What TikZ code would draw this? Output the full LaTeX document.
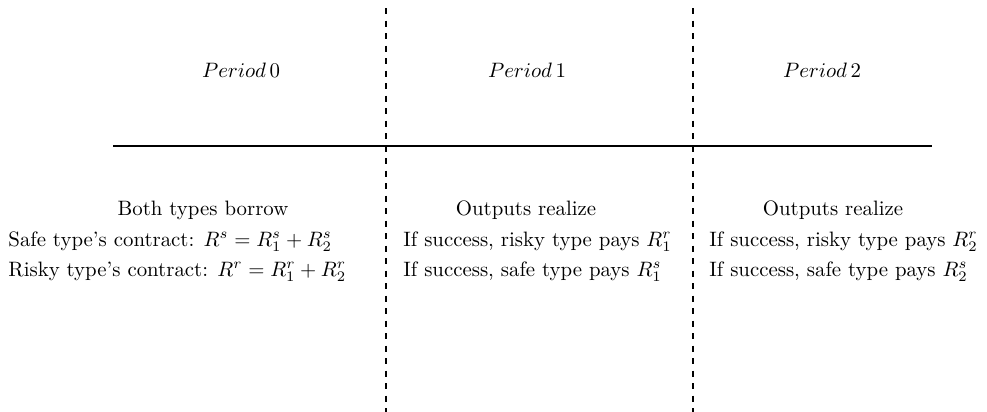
\documentclass[tikz,border=0pt]{standalone}
\begin{document}
\begin{tikzpicture}[x=0.48pt,y=-0.48pt,
  divider/.style={dashed,line width=0.5pt},
  timeline/.style={line width=0.6pt},
  lbl/.style={inner sep=0pt,font=\normalsize,text height=6.5pt,text depth=1.5pt},
  lft/.style={lbl,anchor=west}]
\useasboundingbox (0,0) rectangle (987,412);
\coordinate (d1t) at (386,8);
\coordinate (d1b) at (386,412);
\coordinate (d2t) at (693,8);
\coordinate (d2b) at (693,412);
\coordinate (hl) at (113,146);
\coordinate (hr) at (932,146);
\draw[divider] (d1t) -- (d1b);
\draw[divider] (d2t) -- (d2b);
\draw[timeline] (hl) -- (hr);
\node[lbl] (p0) at (241,72) {$Period\,0$};
\node[lbl] (p1) at (527,72) {$Period\,1$};
\node[lbl] (p2) at (822,72) {$Period\,2$};
\node[lbl] (b0) at (203,210) {Both types borrow};
\node[lft] (s0) at (8,241) {Safe type's contract: $R^s=R^s_1+R^s_2$};
\node[lft] (r0) at (8,271) {Risky type's contract: $R^r=R^r_1+R^r_2$};
\node[lbl] (o1) at (526,210) {Outputs realize};
\node[lft] (a1) at (403,241) {If success, risky type pays $R^r_1$};
\node[lft] (b1) at (403,271) {If success, safe type pays $R^s_1$};
\node[lbl] (o2) at (833,210) {Outputs realize};
\node[lft] (a2) at (709,241) {If success, risky type pays $R^r_2$};
\node[lft] (b2) at (709,271) {If success, safe type pays $R^s_2$};
\end{tikzpicture}
\end{document}
